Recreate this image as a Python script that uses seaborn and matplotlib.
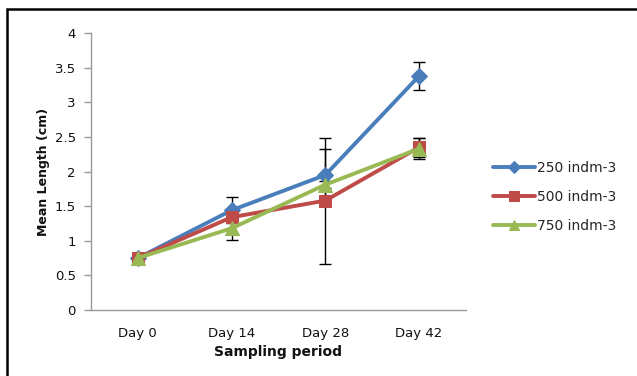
import numpy as np
import pandas as pd
import matplotlib
matplotlib.use("Agg")
import matplotlib.pyplot as plt
import seaborn as sns
from matplotlib.patches import Rectangle

# Sampling days and mean lengths (cm) for each stocking density
days = ["Day 0", "Day 14", "Day 28", "Day 42"]
series = ["250 indm-3", "500 indm-3", "750 indm-3"]
len_250 = [0.75, 1.44, 1.95, 3.38]
len_500 = [0.75, 1.34, 1.58, 2.35]
len_750 = [0.75, 1.18, 1.81, 2.33]
err_250 = [0.0, 0.19, 0.37, 0.20]
err_500 = [0.0, 0.05, 0.91, 0.14]
err_750 = [0.0, 0.17, 0.05, 0.15]

y_ticks = [0, 0.5, 1, 1.5, 2, 2.5, 3, 3.5, 4]
y_tick_labels = ["0", "0.5", "1", "1.5", "2", "2.5", "3", "3.5", "4"]

colors = ["#4a7ebb", "#be4b48", "#98b954"]
markers = ["D", "s", "^"]
msizes = [8.5, 9, 10]

df = pd.DataFrame({
    "day": np.tile(np.arange(len(days)), 3),
    "length": len_250 + len_500 + len_750,
    "err": err_250 + err_500 + err_750,
    "density": np.repeat(series, len(days)),
})

sns.set_style("white")
plt.rcParams["font.family"] = ["DejaVu Sans"]

fig = plt.figure(figsize=(6.37, 3.76), dpi=100)
ax = fig.add_axes([91 / 637, 1 - 310 / 376, (466 - 91) / 637, (310 - 33) / 376])

# error bars sit beneath the lines and markers
for name in series:
    sub = df[df["density"] == name]
    sub = sub[sub["err"] > 0]
    ax.errorbar(sub["day"], sub["length"], yerr=sub["err"], fmt="none",
                ecolor="black", elinewidth=1.0, capsize=4, capthick=1.0, zorder=2)

for name, col, mk, ms in zip(series, colors, markers, msizes):
    sub = df[df["density"] == name]
    sns.lineplot(data=sub, x="day", y="length", ax=ax, color=col, lw=2.8,
                 marker=mk, markersize=ms, markeredgecolor=col, label=name,
                 legend=False, zorder=3)

ax.set_xlim(-0.5, 3.5)
ax.set_ylim(0, 4)
ax.set_yticks(y_ticks)
ax.set_yticklabels(y_tick_labels, fontsize=9.5, color="#111111")

# category boundaries carry the tick marks; labels sit at category centers
ax.set_xticks(np.arange(-0.5, len(days), 1.0))
ax.set_xticklabels([])
ax.set_xticks(np.arange(len(days)), minor=True)
ax.set_xticklabels(days, minor=True, fontsize=9.5, color="#111111")
ax.tick_params(axis="x", which="minor", length=0, pad=12)
ax.tick_params(axis="x", which="major", length=5, width=1, color="#999999", direction="out")
ax.tick_params(axis="y", length=5, width=1, color="#999999", direction="out", pad=6, left=True)

for s in ["top", "right"]:
    ax.spines[s].set_visible(False)
for s in ["left", "bottom"]:
    ax.spines[s].set_color("#999999")
    ax.spines[s].set_linewidth(1.0)

ax.set_xlabel("Sampling period", fontsize=10, fontweight="bold", labelpad=4, color="#111111")
ax.set_ylabel("Mean Length (cm)", fontsize=9, fontweight="bold", labelpad=3, color="#111111")

handles, labels = ax.get_legend_handles_labels()
fig.legend(handles, labels, loc="center left", bbox_to_anchor=(481 / 637, 1 - 197 / 376),
           frameon=False, fontsize=10, handlelength=3.0, handletextpad=0.1,
           labelspacing=1.1, markerscale=0.75)

# outer frame
fig.patches.append(Rectangle((7 / 637, -0.1), 1.2, (1 - 9 / 376) + 0.1,
                             transform=fig.transFigure, fill=False,
                             edgecolor="black", linewidth=1.8))

fig.savefig("out.png", dpi=100)
